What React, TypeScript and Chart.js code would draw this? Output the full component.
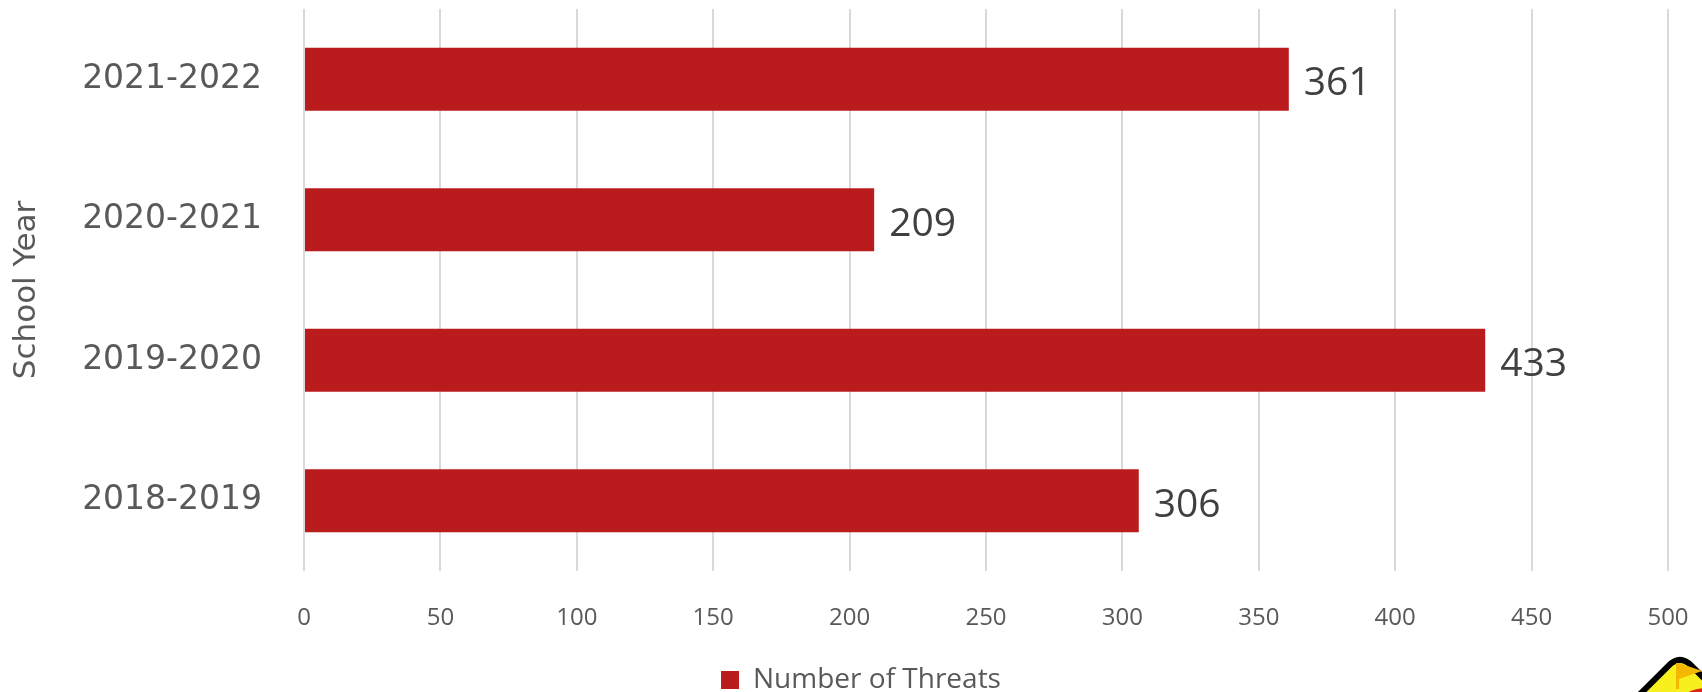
import React, { useEffect, useRef } from "react";
import { Chart, registerables } from "chart.js";

Chart.register(...registerables);

const categories = ["2021-2022", "2020-2021", "2019-2020", "2018-2019"];
const threatValues = [361, 209, 433, 306];
const seriesLabel = "Number of Threats";
const axisTitle = "School Year";
const xMin = 0;
const xMax = 500;
const xStep = 50;

const BAR_COLOR = "#BA1C1E";
const TICK_COLOR = "#595959";
const LABEL_COLOR = "#404040";
const GRID_COLOR = "#D9D9D9";

const dataLabelPlugin = {
  id: "dataLabels",
  afterDatasetsDraw(chart: any) {
    const ctx = chart.ctx;
    const meta = chart.getDatasetMeta(0);
    ctx.save();
    ctx.font = "39px 'Open Sans'";
    ctx.fillStyle = LABEL_COLOR;
    ctx.textAlign = "left";
    ctx.textBaseline = "middle";
    meta.data.forEach((bar: any, i: number) => {
      const v = chart.data.datasets[0].data[i];
      ctx.fillText(String(v), bar.x + 15, bar.y + 5);
    });
    ctx.restore();
  },
};

const logoPlugin = {
  id: "cornerLogo",
  afterDraw(chart: any) {
    const ctx = chart.ctx;
    ctx.save();
    ctx.translate(1680, 744);
    ctx.rotate(Math.PI / 4);
    const s = 127;
    const r = 16;
    ctx.beginPath();
    ctx.moveTo(-s / 2 + r, -s / 2);
    ctx.lineTo(s / 2 - r, -s / 2);
    ctx.quadraticCurveTo(s / 2, -s / 2, s / 2, -s / 2 + r);
    ctx.lineTo(s / 2, s / 2 - r);
    ctx.quadraticCurveTo(s / 2, s / 2, s / 2 - r, s / 2);
    ctx.lineTo(-s / 2 + r, s / 2);
    ctx.quadraticCurveTo(-s / 2, s / 2, -s / 2, s / 2 - r);
    ctx.lineTo(-s / 2, -s / 2 + r);
    ctx.quadraticCurveTo(-s / 2, -s / 2, -s / 2 + r, -s / 2);
    ctx.closePath();
    ctx.fillStyle = "#F7F01E";
    ctx.fill();
    ctx.lineWidth = 6;
    ctx.strokeStyle = "#000000";
    ctx.stroke();
    ctx.restore();
    ctx.save();
    ctx.beginPath();
    ctx.arc(1706, 728, 40, 0, Math.PI * 2);
    ctx.fillStyle = "#E0201E";
    ctx.fill();
    ctx.fillStyle = "#F5B800";
    ctx.fillRect(1676, 663, 3, 26);
    ctx.beginPath();
    ctx.moveTo(1679, 663);
    ctx.lineTo(1702, 671);
    ctx.lineTo(1679, 679);
    ctx.closePath();
    ctx.fill();
    ctx.restore();
  },
};

export default function App() {
  const canvasRef = useRef<HTMLCanvasElement | null>(null);

  useEffect(() => {
    document.body.style.margin = "0";
    const canvas = canvasRef.current;
    if (!canvas) return;
    const chart = new Chart(canvas, {
      type: "bar",
      data: {
        labels: categories,
        datasets: [
          {
            label: seriesLabel,
            data: threatValues,
            backgroundColor: BAR_COLOR,
            borderWidth: 0,
            barPercentage: 0.45,
            categoryPercentage: 1,
          },
        ],
      },
      options: {
        indexAxis: "y",
        animation: false,
        responsive: false,
        devicePixelRatio: 1,
        layout: {
          autoPadding: false,
          padding: { top: 9, right: 34, left: 54, bottom: -12 },
        },
        plugins: {
          tooltip: { enabled: false },
          legend: {
            position: "bottom",
            labels: {
              boxWidth: 18,
              boxHeight: 18,
              padding: 0,
              color: TICK_COLOR,
              font: { family: "'Open Sans'", size: 28 },
            },
          },
        },
        scales: {
          x: {
            min: xMin,
            max: xMax,
            ticks: {
              stepSize: xStep,
              padding: 33,
              color: TICK_COLOR,
              font: { family: "'Open Sans'", size: 24 },
            },
            grid: { color: GRID_COLOR, lineWidth: 2, drawTicks: false },
            border: { display: false },
            afterFit(scale: any) {
              scale.height = 95;
              scale.paddingLeft = 0;
              scale.paddingRight = 0;
            },
          },
          y: {
            ticks: {
              padding: 42,
              color: TICK_COLOR,
              font: { family: "'DejaVu Sans'", size: 33 },
            },
            grid: { display: false, drawTicks: false },
            border: { display: false },
            title: {
              display: true,
              text: axisTitle,
              color: TICK_COLOR,
              font: { family: "'DejaVu Sans'", size: 31 },
              padding: { top: -46, bottom: 0 },
            },
            afterFit(scale: any) {
              scale.width = 250;
              scale.paddingTop = 0;
              scale.paddingBottom = 0;
            },
          },
        },
      },
      plugins: [dataLabelPlugin, logoPlugin],
    });
    return () => chart.destroy();
  }, []);

  return (
    <div style={{ width: 1702, height: 692, background: "#ffffff" }}>
      <canvas ref={canvasRef} width={1702} height={692} style={{ width: 1702, height: 692, display: "block" }} />
    </div>
  );
}
